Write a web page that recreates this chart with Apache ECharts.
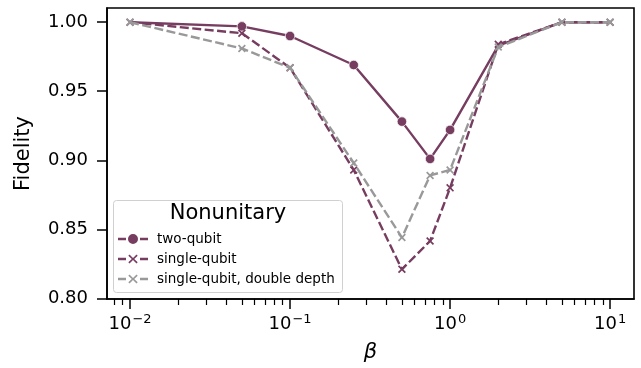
<!DOCTYPE html>
<html><head><meta charset="utf-8">
<script src="https://cdn.jsdelivr.net/npm/echarts@6/dist/echarts.min.js"></script>
<style>html,body{margin:0;padding:0;background:#fff}#c{width:641px;height:368px}</style>
</head><body><div id="c"></div>
<script>
// ---- data ----
const beta = [0.01, 0.05, 0.1, 0.25, 0.5, 0.75, 1, 2, 5, 10];
const twoQubit = [1.000, 0.997, 0.990, 0.969, 0.928, 0.901, 0.922, 0.983, 1.000, 1.000];
const singleQubit = [1.000, 0.992, 0.967, 0.893, 0.821, 0.8415, 0.880, 0.984, 1.000, 1.000];
const singleQubitDouble = [1.000, 0.981, 0.967, 0.898, 0.844, 0.889, 0.893, 0.982, 1.000, 1.000];
const seriesNames = ['two-qubit', 'single-qubit', 'single-qubit, double depth'];
const legendTitle = 'Nonunitary';
const yTicks = [0.80, 0.85, 0.90, 0.95, 1.00];
const xMajorTicks = [0.01, 0.1, 1, 10];
const xMinorTicks = [0.008, 0.009, 0.02, 0.03, 0.04, 0.05, 0.06, 0.07, 0.08, 0.09,
  0.2, 0.3, 0.4, 0.5, 0.6, 0.7, 0.8, 0.9, 2, 3, 4, 5, 6, 7, 8, 9];
const hiddenMarkerBeta = [0.01, 2, 5, 10]; // two-qubit points drawn without a visible marker
const xLabel = 'β';
const yLabel = 'Fidelity';

// ---- style ----
const PURPLE = '#763d60';
const GRAY = '#999999';
const FONT = 'DejaVu Sans';
const X_SYMBOL = 'path://M1.5,0 L5,3.5 L8.5,0 L10,1.5 L6.5,5 L10,8.5 L8.5,10 L5,6.5 L1.5,10 L0,8.5 L3.5,5 L0,1.5 Z';
const DASH = [9, 3.5];
const LW = 2.4;
// legend icons: dash - marker - dash, in a 30 x 10 box
const DASHES = 'M0,3.7 L8,3.7 L8,6.3 L0,6.3 Z M22,3.7 L30,3.7 L30,6.3 L22,6.3 Z ';
const ICON_CIRCLE = 'path://' + DASHES + 'M10,5 A5,5 0 1,0 20,5 A5,5 0 1,0 10,5 Z';
const ICON_X = 'path://' + DASHES +
  'M11.5,0.5 L15,4 L18.5,0.5 L19.7,1.7 L16.2,5 L19.7,8.3 L18.5,9.5 L15,6 L11.5,9.5 L10.3,8.3 L13.8,5 L10.3,1.7 Z ' +
  'M15,0 L15,0.01 L15.01,0 Z M15,10 L15,9.99 L15.01,10 Z';

const pairs = (ys) => beta.map((b, i) => [b, ys[i]]);
function powLabel(v) {
  const e = Math.round(Math.log10(v));
  const s = String(e).replace('-', '\u2212');
  return '{b|10}{s|' + s + '}';
}

const xMin = 0.00718, xMax = 14.1;

const chart = echarts.init(document.getElementById('c'), null, {renderer: 'canvas'});
chart.setOption({
  animation: false,
  backgroundColor: '#fff',
  textStyle: {fontFamily: FONT},
  grid: {left: 107, right: 7, top: 8, bottom: 69, show: true, borderColor: '#000', borderWidth: 1.6, backgroundColor: 'transparent'},
  xAxis: [
    {
      type: 'log', logBase: 10, min: xMin, max: xMax, position: 'bottom',
      name: xLabel, nameLocation: 'middle', nameGap: 43,
      nameTextStyle: {fontFamily: FONT, fontSize: 21, fontStyle: 'italic', color: '#000'},
      axisLine: {show: true, lineStyle: {color: '#000', width: 1.6}},
      axisTick: {show: true, inside: false, length: 10, lineStyle: {color: '#000', width: 1.5}, customValues: xMajorTicks},
      axisLabel: {
        show: true, customValues: xMajorTicks, margin: 14, color: '#000',
        formatter: (v) => powLabel(v),
        rich: {
          b: {fontFamily: FONT, fontSize: 18, color: '#000', verticalAlign: 'bottom', lineHeight: 20},
          s: {fontFamily: FONT, fontSize: 13, color: '#000', verticalAlign: 'top', lineHeight: 13, padding: [0, 0, 8, 1]}
        }
      },
      splitLine: {show: false}, minorTick: {show: false}
    },
    {
      type: 'log', logBase: 10, min: xMin, max: xMax, position: 'bottom', offset: 0,
      axisLine: {show: false},
      axisTick: {show: true, inside: false, length: 6, lineStyle: {color: '#000', width: 1.2}, customValues: xMinorTicks},
      axisLabel: {show: false},
      splitLine: {show: false}
    }
  ],
  yAxis: {
    type: 'value', min: 0.7995, max: 1.0103,
    name: yLabel, nameLocation: 'middle', nameGap: 73, nameRotate: 90,
    nameTextStyle: {fontFamily: FONT, fontSize: 21, color: '#000'},
    axisLine: {show: true, lineStyle: {color: '#000', width: 1.6}},
    axisTick: {show: true, inside: false, length: 10, lineStyle: {color: '#000', width: 1.5}, customValues: yTicks},
    axisLabel: {show: true, customValues: yTicks, margin: 19, color: '#000', fontFamily: FONT, fontSize: 18,
      formatter: (v) => v.toFixed(2)},
    splitLine: {show: false}
  },
  graphic: [
    {type: 'rect', left: 113, top: 200, z: 90, shape: {width: 229, height: 92, r: 3},
      style: {fill: 'rgba(255,255,255,0.8)', stroke: '#d0d0d0', lineWidth: 1}}
  ],
  title: {
    text: legendTitle, left: 228, top: 203, textAlign: 'center', padding: 0, z: 100,
    textStyle: {fontFamily: FONT, fontSize: 21, fontWeight: 'normal', color: '#000'}
  },
  legend: {
    left: 118, top: 232, orient: 'vertical', padding: 0, z: 100,
    itemWidth: 30, itemHeight: 10, itemGap: 6,
    itemStyle: {borderWidth: 0},
    textStyle: {fontFamily: FONT, fontSize: 13.5, color: '#000', lineHeight: 14, padding: [0, 0, 0, 4]},
    data: [
      {name: seriesNames[0], icon: ICON_CIRCLE, itemStyle: {borderWidth: 0}},
      {name: seriesNames[1], icon: ICON_X},
      {name: seriesNames[2], icon: ICON_X}
    ]
  },
  series: [
    {
      name: seriesNames[0], type: 'line', z: 3,
      data: pairs(twoQubit).map((p) => (hiddenMarkerBeta.includes(p[0]) ? {value: p, symbol: 'none'} : p)),
      symbol: 'circle', symbolSize: 9.5, showSymbol: true,
      lineStyle: {color: PURPLE, width: LW, type: 'solid'},
      itemStyle: {color: PURPLE, borderColor: '#fff', borderWidth: 0.7}
    },
    {
      name: seriesNames[1], type: 'line', z: 4,
      data: pairs(singleQubit),
      symbol: X_SYMBOL, symbolSize: 8,
      lineStyle: {color: PURPLE, width: LW, type: DASH},
      itemStyle: {color: PURPLE}
    },
    {
      name: seriesNames[2], type: 'line', z: 5,
      data: pairs(singleQubitDouble),
      symbol: X_SYMBOL, symbolSize: 8,
      lineStyle: {color: GRAY, width: LW, type: DASH},
      itemStyle: {color: GRAY}
    }
  ]
});
</script>
</body></html>
